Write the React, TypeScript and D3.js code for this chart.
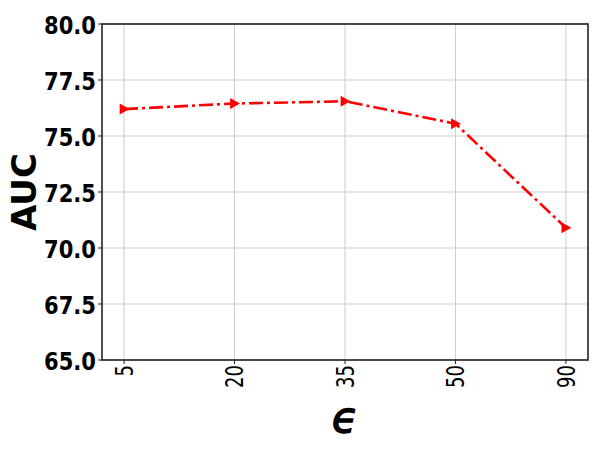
import React from "react";
import * as d3 from "d3";

const categories = ["5", "20", "35", "50", "90"];
const aucValues = [76.2, 76.45, 76.55, 75.55, 70.9];
const yTicks = [65.0, 67.5, 70.0, 72.5, 75.0, 77.5, 80.0];

const W = 598;
const H = 462;
const M = { left: 102, right: 588, top: 24, bottom: 360 };

export default function App() {
  const x = d3
    .scalePoint<string>()
    .domain(categories)
    .range([M.left, M.right])
    .padding(0.2);
  const y = d3.scaleLinear().domain([65, 80]).range([M.bottom, M.top]);

  const line = d3
    .line<number>()
    .x((_, i) => x(categories[i]) as number)
    .y((d) => y(d));

  const tri = (cx: number, cy: number) => {
    const s = 5.5;
    return `M${cx + s},${cy} L${cx - s * 0.8},${cy - s} L${cx - s * 0.8},${cy + s} Z`;
  };

  return (
    <svg
      width={W}
      height={H}
      style={{ position: "absolute", left: 0, top: 0, background: "#fff" }}
    >
      {/* grid */}
      {yTicks.map((t) => (
        <line
          key={"gy" + t}
          x1={M.left}
          x2={M.right}
          y1={y(t)}
          y2={y(t)}
          stroke="#cccccc"
          strokeWidth={1}
        />
      ))}
      {categories.map((c) => (
        <line
          key={"gx" + c}
          x1={x(c)}
          x2={x(c)}
          y1={M.top}
          y2={M.bottom}
          stroke="#cccccc"
          strokeWidth={1}
        />
      ))}
      {/* data line */}
      <path
        d={line(aucValues) as string}
        fill="none"
        stroke="#ff0000"
        strokeWidth={2.6}
        strokeDasharray="14,4,3,4"
      />
      {aucValues.map((v, i) => (
        <path key={"m" + i} d={tri(x(categories[i]) as number, y(v))} fill="#ff0000" />
      ))}
      {/* frame */}
      <rect
        x={M.left}
        y={M.top}
        width={M.right - M.left}
        height={M.bottom - M.top}
        fill="none"
        stroke="#222"
        strokeWidth={1.6}
      />
      {/* y ticks */}
      {yTicks.map((t) => (
        <g key={"yt" + t}>
          <line x1={M.left - 4} x2={M.left} y1={y(t)} y2={y(t)} stroke="#222" strokeWidth={1} />
          <text
            transform={`translate(${M.left - 6},${y(t) + 1}) scale(0.86,1)`}
            textAnchor="end"
            dominantBaseline="central"
            fontFamily="DejaVu Sans"
            fontWeight="bold"
            fontSize={24.5}
            fill="#000"
          >
            {t.toFixed(1)}
          </text>
        </g>
      ))}
      {/* x ticks */}
      {categories.map((c) => (
        <g key={"xt" + c}>
          <line x1={x(c)} x2={x(c)} y1={M.bottom} y2={M.bottom + 4} stroke="#222" strokeWidth={1} />
          <text
            transform={`translate(${x(c)},${M.bottom + 5}) rotate(-90) scale(0.72,1)`}
            textAnchor="end"
            dominantBaseline="central"
            fontFamily="DejaVu Sans"
            fontSize={25}
            fill="#000"
          >
            {c}
          </text>
        </g>
      ))}
      {/* axis labels */}
      <text
        transform={`translate(24,${(M.top + M.bottom) / 2}) rotate(-90)`}
        textAnchor="middle"
        dominantBaseline="central"
        fontFamily="DejaVu Sans"
        fontWeight="bold"
        fontSize={34}
        fill="#000"
      >
        AUC
      </text>
      <text
        x={(M.left + M.right) / 2}
        y={432}
        textAnchor="middle"
        fontFamily="DejaVu Sans"
        fontStyle="italic"
        fontSize={43}
        fill="#000"
        stroke="#000"
        strokeWidth={1.3}
      >
        ϵ
      </text>
    </svg>
  );
}
